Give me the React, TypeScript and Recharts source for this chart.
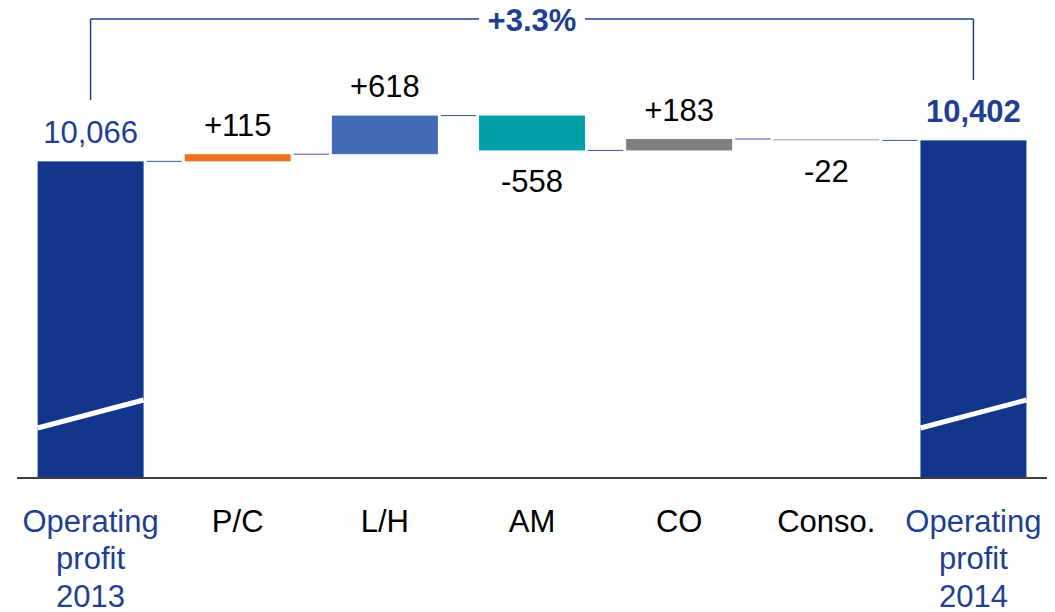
import { Bar, BarChart, Cell, LabelList, ReferenceLine, XAxis, YAxis } from "recharts";

const categories = ["Operating profit 2013", "P/C", "L/H", "AM", "CO", "Conso.", "Operating profit 2014"];
const startValue = 10066;
const endValue = 10402;
const changes = [115, 618, -558, 183, -22];

// broken axis: bars start at Y_MIN instead of zero
const Y_MIN = 5000;
const Y_MAX = 12328;
const BRACKET_Y = 12344;
const LEFT_LEG = 11048;
const RIGHT_LEG = 11368;

const NAVY = "#14368A";
const TEXT_BLUE = "#1F3F93";
const FONT = "'Liberation Sans', Arial, sans-serif";
const barColors = [NAVY, "#EF7220", "#456BB4", "#00A0A8", "#808080", "#BFBFBF", NAVY];
const GAP = 0.14;

type Row = { name: string; kind: "total" | "up" | "down"; range: [number, number]; value: number };

let level = startValue;
const rows: Row[] = categories.map((name, i) => {
  if (i === 0) return { name, kind: "total", range: [Y_MIN, startValue], value: startValue };
  if (i === categories.length - 1) return { name, kind: "total", range: [Y_MIN, endValue], value: endValue };
  const d = changes[i - 1];
  const from = level;
  level += d;
  return { name, kind: d >= 0 ? "up" : "down", range: [Math.min(from, level), Math.max(from, level)], value: d };
});

const growth = ((endValue / startValue - 1) * 100).toFixed(1);
const growthLabel = (Number(growth) >= 0 ? "+" : "") + growth + "%";

const formatValue = (r: Row) =>
  r.kind === "total" ? r.value.toLocaleString("en-US") : (r.value > 0 ? "+" : "") + r.value;

function WaterfallShape(props: any) {
  const { x, y, width, height, index } = props;
  const row = rows[index];
  const top = Math.min(y, y + height);
  const h = Math.abs(height);
  const bottom = top + h;
  const gap = (width * 2 * GAP) / (1 - 2 * GAP);
  const endY = row.kind === "down" ? bottom : top;
  const isLast = index === rows.length - 1;
  return (
    <g>
      <rect x={x} y={top} width={width} height={row.kind === "total" ? h + 3 : Math.max(h, 1.5)} fill={barColors[index]} />
      {row.kind === "total" && (
        <line x1={x} y1={bottom - 50} x2={x + width} y2={bottom - 78} stroke="#fff" strokeWidth={5} />
      )}
      {!isLast && (
        <line x1={x + width + 3} y1={endY} x2={x + width + gap - 3} y2={endY} stroke="#3A56A8" strokeWidth={1} />
      )}
    </g>
  );
}

function ValueLabel(props: any) {
  const { x, y, width, height, index } = props;
  const row = rows[index];
  const top = Math.min(y, y + height);
  const bottom = Math.max(y, y + height);
  const ty = row.kind === "down" ? bottom + 31 : top - 29;
  const isTotal = row.kind === "total";
  return (
    <text
      x={x + width / 2}
      y={ty}
      textAnchor="middle"
      dominantBaseline="central"
      fontFamily={FONT}
      fontSize={31}
      fontWeight={index === rows.length - 1 ? 700 : 400}
      fill={isTotal ? TEXT_BLUE : "#000"}
    >
      {formatValue(row)}
    </text>
  );
}

function CategoryTick(props: any) {
  const { x, y, payload } = props;
  const name: string = payload.value;
  const isTotal = name.startsWith("Operating");
  const lines = isTotal ? name.split(" ") : [name];
  return (
    <g>
      {lines.map((l, i) => (
        <text
          key={i}
          x={x}
          y={y + 43 + i * 37.5}
          textAnchor="middle"
          dominantBaseline="central"
          fontFamily={FONT}
          fontSize={31}
          fill={isTotal ? TEXT_BLUE : "#000"}
        >
          {l}
        </text>
      ))}
    </g>
  );
}

function BracketLabel(props: any) {
  const vb = props.viewBox || {};
  const cx = vb.x + vb.width / 2;
  const cy = vb.y;
  return (
    <g>
      <rect x={cx - 53} y={cy - 6} width={106} height={12} fill="#fff" />
      <text x={cx} y={cy + 1} textAnchor="middle" dominantBaseline="central" fontFamily={FONT} fontSize={31} fontWeight={700} fill={TEXT_BLUE}>
        {growthLabel}
      </text>
    </g>
  );
}

export default function App() {
  const first = categories[0];
  const last = categories[categories.length - 1];
  return (
    <div style={{ position: "absolute", left: 0, top: 0, width: 1055, height: 612, background: "#fff" }}>
      <BarChart width={1055} height={612} data={rows} margin={{ top: 20, right: 8, left: 17, bottom: 14 }} barCategoryGap={`${GAP * 100}%`}>
        <XAxis
          dataKey="name"
          height={120}
          tickSize={0}
          tickMargin={0}
          tickLine={false}
          axisLine={{ stroke: "#404040", strokeWidth: 2 }}
          tick={<CategoryTick />}
          interval={0}
        />
        <YAxis hide type="number" domain={[Y_MIN, Y_MAX]} allowDataOverflow />
        <Bar dataKey="range" isAnimationActive={false} shape={<WaterfallShape />}>
          {rows.map((r, i) => (
            <Cell key={r.name} fill={barColors[i]} />
          ))}
          <LabelList dataKey="range" content={<ValueLabel />} />
        </Bar>
        <ReferenceLine
          ifOverflow="visible"
          segment={[{ x: first, y: LEFT_LEG }, { x: first, y: BRACKET_Y }]}
          stroke={TEXT_BLUE}
          strokeWidth={1.5}
        />
        <ReferenceLine
          ifOverflow="visible"
          segment={[{ x: last, y: RIGHT_LEG }, { x: last, y: BRACKET_Y }]}
          stroke={TEXT_BLUE}
          strokeWidth={1.5}
        />
        <ReferenceLine
          ifOverflow="visible"
          segment={[{ x: first, y: BRACKET_Y }, { x: last, y: BRACKET_Y }]}
          stroke={TEXT_BLUE}
          strokeWidth={1.5}
          label={<BracketLabel />}
        />
      </BarChart>
    </div>
  );
}
